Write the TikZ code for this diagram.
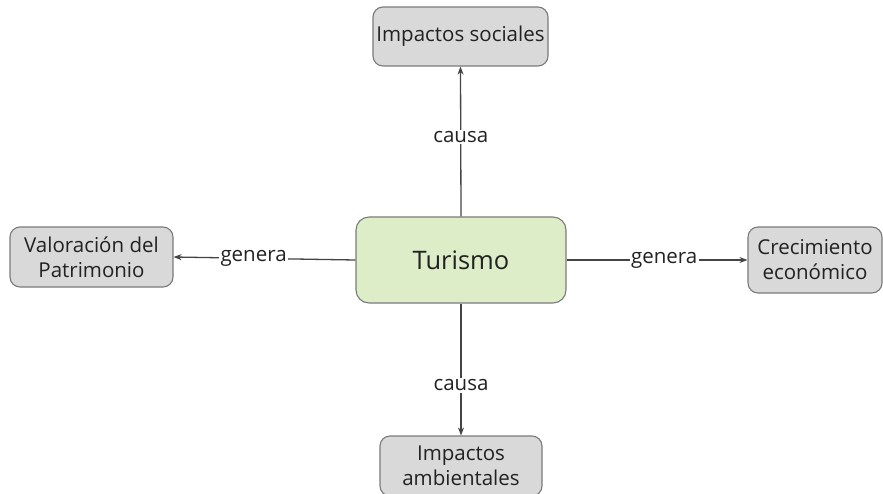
\documentclass[tikz,border=0pt]{standalone}
\usepackage{fontspec}
\setmainfont{Open Sans}
\usetikzlibrary{arrows.meta}
\definecolor{boxgray}{HTML}{D9D9D9}
\definecolor{boxgreen}{HTML}{DCEDC8}
\definecolor{edgegray}{HTML}{7A7A7A}
\definecolor{txt}{HTML}{222222}
\definecolor{linec}{HTML}{444444}
\tikzset{
  concept/.style={draw=edgegray, line width=1.1pt, fill=boxgray, rounded corners=10pt,
    align=center, text=txt, inner sep=0pt, font=\fontsize{20.5}{25}\selectfont},
  central/.style={draw=edgegray, line width=1.1pt, fill=boxgreen, rounded corners=13pt,
    align=center, text=txt, inner sep=0pt, font=\fontsize{25.5}{30}\selectfont},
  link/.style={draw=linec, line width=1.3pt, -{Stealth[length=8pt,width=6pt]}},
  lbl/.style={fill=white, text=txt, inner sep=1.5pt, font=\fontsize{20.5}{24}\selectfont}
}
\begin{document}
\begin{tikzpicture}[x=1pt,y=-1pt]
\useasboundingbox (0,0) rectangle (883,493);
\begin{scope}
\clip (0,0) rectangle (883,493);
\node[central, minimum width=210pt, minimum height=86pt] (tur) at (461,260) {Turismo};
\node[concept, minimum width=175pt, minimum height=59pt] (soc) at (460.5,36.5) {Impactos sociales};
\node[concept, minimum width=162pt, minimum height=60pt] (amb) at (461,466) {Impactos\\ambientales};
\node[concept, minimum width=163pt, minimum height=60pt] (val) at (91.5,257) {Valoración del\\Patrimonio};
\node[concept, minimum width=134pt, minimum height=66pt] (cre) at (815,260) {Crecimiento\\económico};
\draw[link] (tur.north) -- node[lbl, pos=0.53] {causa} (soc.south);
\draw[link] (tur.south) -- node[lbl, pos=0.62] {causa} (amb.north);
\draw[link] (tur.west) -- node[lbl, pos=0.56] {genera} (val.east);
\draw[link] (tur.east) -- node[lbl, pos=0.54] {genera} (cre.west);
\end{scope}
\end{tikzpicture}
\end{document}
